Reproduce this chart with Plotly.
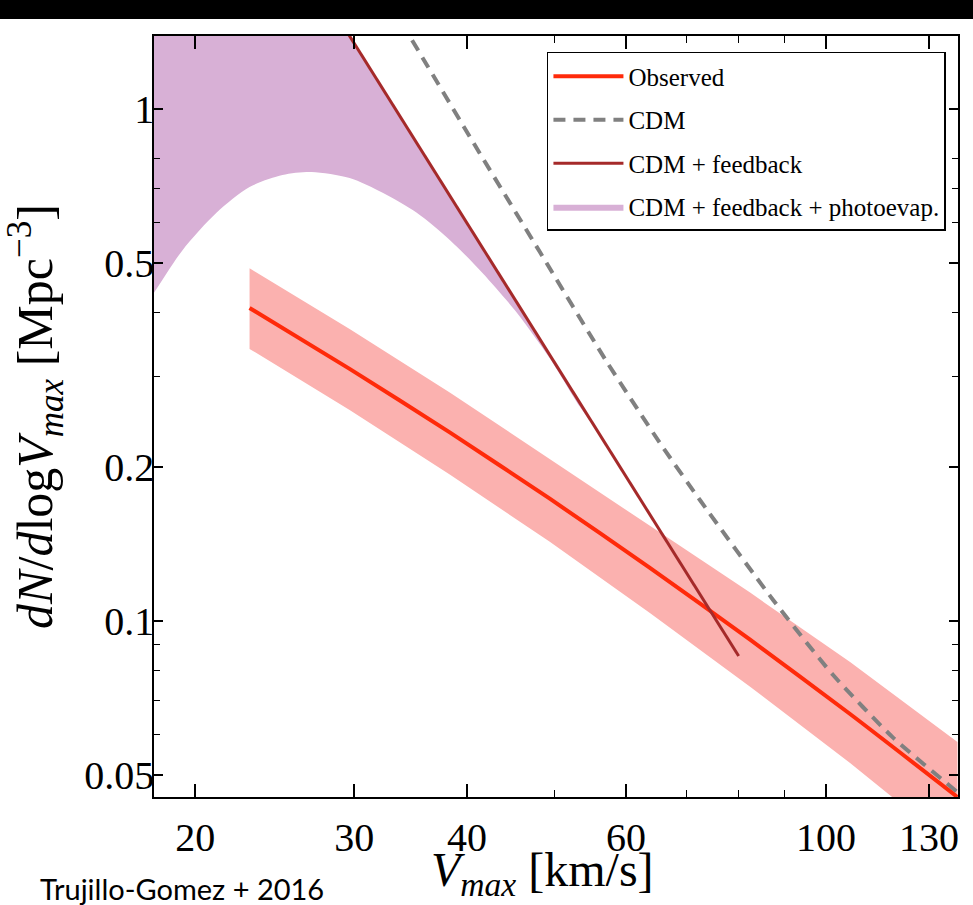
import math
import plotly.graph_objects as go

# ---------------- data ----------------
# Observed velocity function (solid red) and its uncertainty band
V_obs = [22.97, 29.65, 38.28, 49.41, 63.79, 82.37, 106.3, 139.8]
n_obs = [0.4088, 0.3108, 0.2335, 0.1733, 0.1270, 0.0919, 0.0658, 0.0453]
n_obs_hi = [0.4887, 0.3719, 0.2795, 0.2074, 0.1534, 0.1136, 0.0831, 0.0580]
n_obs_lo = [0.3400, 0.2584, 0.1932, 0.1428, 0.1037, 0.0744, 0.0528, 0.0357]

# CDM (grey dashed)
V_cdm = [33.0, 34.55, 41.32, 48.18, 57.16, 65.44, 72.47, 87.35, 101.8, 118.7, 139.8, 142.6]
n_cdm = [1.59, 1.389, 0.820, 0.5256, 0.3205, 0.2227, 0.1723, 0.1099, 0.0784, 0.0591, 0.0463, 0.0450]

# CDM + feedback (dark red, straight in log-log)
V_fb = [29.0, 80.0]
n_fb = [1.478, 0.0854]

# CDM + feedback + photoevaporation (purple region): lower edge, upper edge
V_pe_lo = [17.5, 18.02, 19.36, 21.11, 22.97, 24.98, 26.91, 29.65, 32.26,
           35.19, 38.28, 41.64, 45.43, 49.41, 53.36, 55.72]
n_pe_lo = [0.407, 0.439, 0.530, 0.627, 0.704, 0.743, 0.753, 0.733, 0.686,
           0.627, 0.555, 0.478, 0.400, 0.326, 0.262, 0.236]
V_pe_hi = [17.5, 26.0, 55.72]
n_pe_hi = [2.01, 2.01, 0.236]

x_ticks = [20, 30, 40, 60, 100, 130]
x_ticktext = ["20", "30", "40", "60", "100", "130"]
x_minor = [50, 70, 80, 90]
y_ticks = [0.05, 0.1, 0.2, 0.5, 1]
y_ticktext = ["0.05", "0.1", "0.2", "0.5", "1"]
y_minor = [0.06, 0.07, 0.08, 0.09, 0.3, 0.4, 0.6, 0.7, 0.8]

x_range = [18.0, 140.0]
y_range = [0.0453, 1.389]

# ---------------- figure ----------------
SERIF = "Liberation Serif"
fig = go.Figure()

# purple region: lower edge (invisible) + upper edge filled down to it
fig.add_trace(go.Scatter(
    x=V_pe_lo, y=n_pe_lo, mode="lines",
    line=dict(width=0, color="#D8B0D6", shape="spline", smoothing=0.8),
    showlegend=False, hoverinfo="skip", legendgroup="d"))
fig.add_trace(go.Scatter(
    x=V_pe_hi, y=n_pe_hi, mode="lines", fill="tonexty", fillcolor="#D8B0D6",
    line=dict(width=0, color="#D8B0D6"),
    name="CDM + feedback + photoevap.", legendrank=4, legendgroup="d",
    hoverinfo="skip"))

fig.add_trace(go.Scatter(
    x=V_obs + V_obs[::-1], y=n_obs_hi + n_obs_lo[::-1],
    mode="lines", fill="toself", fillcolor="#FBB1AF",
    line=dict(width=0, color="#FBB1AF"),
    showlegend=False, hoverinfo="skip"))

fig.add_trace(go.Scatter(
    x=V_cdm, y=n_cdm, mode="lines",
    line=dict(color="#808080", width=4, dash="12px,8px", shape="spline", smoothing=0.6),
    name="CDM", legendrank=2, legendgroup="b"))

fig.add_trace(go.Scatter(
    x=V_obs, y=n_obs, mode="lines",
    line=dict(color="#FF2A0A", width=4, shape="spline", smoothing=0.6),
    name="Observed", legendrank=1, legendgroup="a"))

fig.add_trace(go.Scatter(
    x=V_fb, y=n_fb, mode="lines",
    line=dict(color="#A52A2A", width=3),
    name="CDM + feedback", legendrank=3, legendgroup="c"))

axis_common = dict(
    type="log", showgrid=False, zeroline=False,
    showline=True, linecolor="black", linewidth=1.5, mirror="ticks",
    ticks="inside", tickcolor="black", tickwidth=1.5,
    tickmode="array",
    tickfont=dict(family=SERIF, size=40, color="black"),
)

fig.update_xaxes(
    **axis_common,
    range=[math.log10(x_range[0]), math.log10(x_range[1])],
    tickvals=x_ticks, ticktext=x_ticktext, ticklen=13,
    ticklabelstandoff=4,
    minor=dict(tickmode="array", tickvals=x_minor, ticks="inside", ticklen=7,
               tickcolor="black", tickwidth=1.2, showgrid=False),
)
fig.update_yaxes(
    **axis_common,
    range=[math.log10(y_range[0]), math.log10(y_range[1])],
    tickvals=y_ticks, ticktext=y_ticktext, ticklen=9,
    ticklabelstandoff=-10,
    minor=dict(tickmode="array", tickvals=y_minor, ticks="inside", ticklen=6,
               tickcolor="black", tickwidth=1.2, showgrid=False),
    title=dict(text="<i>dN</i>/<i>d</i>log<i>V<sub>max</sub></i> [Mpc<sup>\u22123</sup>]",
               font=dict(family=SERIF, size=50, color="black"), standoff=16),
)

fig.update_layout(
    width=973, height=905, autosize=False,
    margin=dict(l=154, r=15, t=36, b=108),
    paper_bgcolor="white", plot_bgcolor="white",
    legend=dict(
        x=0.985, y=0.979, xanchor="right", yanchor="top",
        bgcolor="white", bordercolor="black", borderwidth=1.5,
        font=dict(family=SERIF, size=25, color="black"),
        traceorder="grouped", tracegroupgap=8, itemwidth=70,
    ),
    shapes=[dict(type="rect", xref="paper", yref="paper",
                 x0=-0.3, x1=1.1, y0=1 + 17 / 761, y1=1.06,
                 fillcolor="black", line=dict(width=0), layer="above")],
    annotations=[
        dict(text="<i>V<sub>max</sub></i> [km/s]", xref="paper", yref="paper",
             x=0.4826, y=-0.0575, xanchor="center", yanchor="top",
             showarrow=False,
             font=dict(family=SERIF, size=48, color="black")),
        dict(text="Trujillo-Gomez + 2016", xref="paper", yref="paper",
             x=-0.1443, y=-0.1196, xanchor="left", yanchor="middle",
             showarrow=False,
             font=dict(family="Lato", size=29, color="black")),
    ],
)

fig.write_html("out.html",
               config={"displayModeBar": False},
               post_script="document.body.style.margin='0';"
                           "document.body.style.padding='0';")
